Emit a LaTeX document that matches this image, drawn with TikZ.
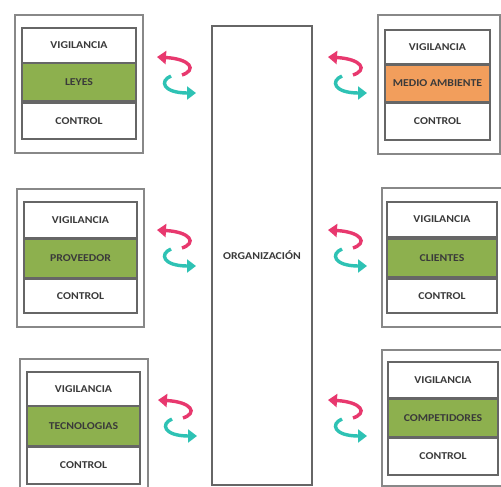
\documentclass[tikz,border=0pt]{standalone}
\usepackage{fontspec}
\setmainfont{Carlito}[FakeStretch=1.12]
\usetikzlibrary{arrows.meta}
\definecolor{boxline}{HTML}{666666}
\definecolor{outline}{HTML}{888888}
\definecolor{leafgreen}{HTML}{8DB04E}
\definecolor{warmorange}{HTML}{F29E5C}
\definecolor{arrowpink}{HTML}{E8386E}
\definecolor{arrowteal}{HTML}{2EC2B4}
\definecolor{txt}{HTML}{3A3A3A}
\tikzset{
  outerbox/.style={draw=outline, line width=1.5pt, anchor=north west, inner sep=0pt, outer sep=0pt},
  cellbox/.style={draw=boxline, line width=1.4pt, fill=white, anchor=north west, inner sep=0pt, outer sep=0pt,
    font=\fontsize{10.5}{11}\selectfont\bfseries, text=txt},
  greencell/.style={cellbox, fill=leafgreen},
  orangecell/.style={cellbox, fill=warmorange},
  pinkarrow/.style={draw=arrowpink, line width=3.4pt, -{Triangle[width=13pt,length=9pt]}},
  tealarrow/.style={draw=arrowteal, line width=3.4pt, -{Triangle[width=13pt,length=9pt]}},
  swaparrows/.pic={
    \coordinate (-ps) at (25,18);
    \coordinate (-pe) at (0,0);
    \coordinate (-ts) at (14,19);
    \coordinate (-te) at (39,36);
    \draw[pinkarrow] (-ps) .. controls (40,13) and (34,2) .. (-pe);
    \draw[tealarrow] (-ts) .. controls (2,24) and (6,36) .. (-te);
  }
}
\begin{document}
\begin{tikzpicture}[x=1pt,y=-1pt]
\useasboundingbox (0,0) rectangle (501,487);
\fill[white] (0,0) rectangle (501,487);
\clip (0,0) rectangle (501,487);

% central organization box
\node[outerbox, draw=boxline, minimum width=100pt, minimum height=459pt, font=\fontsize{10.5}{11}\selectfont\bfseries, text=txt] (org) at (212,26) {ORGANIZACIÓN};

% left top
\node[outerbox, minimum width=128pt, minimum height=138pt] (g1) at (15,15) {};
\node[cellbox, minimum width=114pt, minimum height=35pt] (g1v) at (22,28) {VIGILANCIA};
\node[greencell, minimum width=114pt, minimum height=38pt] (g1m) at (22,63) {LEYES};
\node[cellbox, minimum width=114pt, minimum height=36pt] (g1c) at (22,103) {CONTROL};

% right top
\node[outerbox, minimum width=122pt, minimum height=139pt] (g2) at (378,15) {};
\node[cellbox, minimum width=105pt, minimum height=34pt] (g2v) at (385,30) {VIGILANCIA};
\node[orangecell, minimum width=105pt, minimum height=37pt] (g2m) at (385,65) {MEDIO AMBIENTE};
\node[cellbox, minimum width=105pt, minimum height=37pt] (g2c) at (385,103) {CONTROL};

% left middle
\node[outerbox, minimum width=127pt, minimum height=138pt] (g3) at (17,189) {};
\node[cellbox, minimum width=113pt, minimum height=36pt] (g3v) at (24,202) {VIGILANCIA};
\node[greencell, minimum width=113pt, minimum height=39pt] (g3m) at (24,239) {PROVEEDOR};
\node[cellbox, minimum width=113pt, minimum height=34pt] (g3c) at (24,279) {CONTROL};

% right middle
\node[outerbox, minimum width=120pt, minimum height=139pt] (g4) at (382,188) {};
\node[cellbox, minimum width=110pt, minimum height=35pt] (g4v) at (387,202) {VIGILANCIA};
\node[greencell, minimum width=110pt, minimum height=38pt] (g4m) at (387,239) {CLIENTES};
\node[cellbox, minimum width=110pt, minimum height=34pt] (g4c) at (387,279) {CONTROL};

% left bottom
\node[outerbox, minimum width=128pt, minimum height=140pt] (g5) at (20,359) {};
\node[cellbox, minimum width=113pt, minimum height=34pt] (g5v) at (27,372) {VIGILANCIA};
\node[greencell, minimum width=113pt, minimum height=40pt] (g5m) at (27,406) {TECNOLOGIAS};
\node[cellbox, minimum width=113pt, minimum height=37pt] (g5c) at (27,447) {CONTROL};

% right bottom
\node[outerbox, minimum width=120pt, minimum height=136pt] (g6) at (382,350) {};
\node[cellbox, minimum width=110pt, minimum height=36pt] (g6v) at (388,362) {VIGILANCIA};
\node[greencell, minimum width=110pt, minimum height=38pt] (g6m) at (388,399) {COMPETIDORES};
\node[cellbox, minimum width=110pt, minimum height=37pt] (g6c) at (388,438) {CONTROL};

% exchange arrows
\pic (a1) at (157,57) {swaparrows};
\pic (a2) at (328,57) {swaparrows};
\pic (a3) at (157,230) {swaparrows};
\pic (a4) at (328,230) {swaparrows};
\pic (a5) at (158,400) {swaparrows};
\pic (a6) at (328,400) {swaparrows};
\end{tikzpicture}
\end{document}
